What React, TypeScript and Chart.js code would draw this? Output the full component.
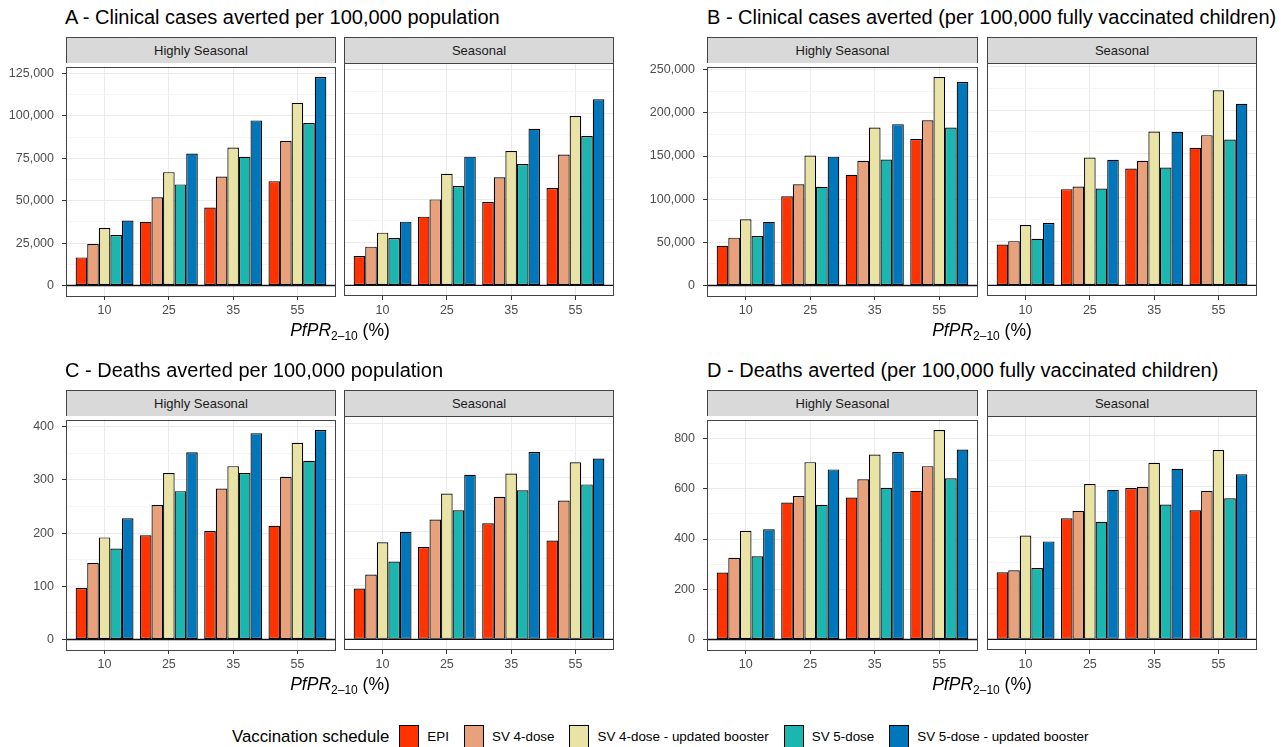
import React, { useEffect, useRef } from 'react';
import { Chart, registerables } from 'chart.js';

Chart.register(...registerables);
Chart.defaults.font.family = "'Liberation Sans', Arial, sans-serif";

// ---------- data ----------
const categories = ['10', '25', '35', '55'];
const seriesNames = ['EPI', 'SV 4-dose', 'SV 4-dose - updated booster', 'SV 5-dose', 'SV 5-dose - updated booster'];
const seriesColors = ['#FF3200', '#E9A17C', '#E9E4A6', '#1BB6AF', '#0076BB'];
const facetNames = ['Highly Seasonal', 'Seasonal'];

// A - Clinical cases averted per 100,000 population (rows follow seriesNames)
const casesPopHighly = [
  [16600, 37500, 46000, 61500],
  [24500, 52000, 64200, 85100],
  [33900, 66800, 81300, 107600],
  [29800, 59600, 75900, 95800],
  [38300, 77800, 97300, 122900],
];
const casesPopSeasonal = [
  [17000, 39900, 48400, 56500],
  [22500, 49900, 62700, 75900],
  [30600, 64800, 78000, 98300],
  [27500, 57700, 70400, 86700],
  [37000, 74700, 90900, 108000],
];
// B - Clinical cases averted per 100,000 fully vaccinated children
const casesVacHighly = [
  [46000, 103300, 128400, 169800],
  [55500, 117400, 144400, 191500],
  [76800, 150500, 183100, 241600],
  [57400, 114400, 145900, 183100],
  [73700, 149300, 186900, 235600],
];
const casesVacSeasonal = [
  [46700, 109800, 133400, 156900],
  [50500, 112800, 142100, 171400],
  [68800, 145900, 175500, 222600],
  [53200, 110600, 134500, 166400],
  [71100, 143200, 175200, 207100],
];
// C - Deaths averted per 100,000 population
const deathsPopHighly = [
  [97, 196, 204, 214],
  [144, 253, 284, 306],
  [192, 313, 326, 370],
  [171, 279, 313, 336],
  [228, 352, 388, 394],
];
const deathsPopSeasonal = [
  [94, 171, 215, 183],
  [120, 222, 264, 257],
  [180, 270, 307, 328],
  [144, 239, 276, 287],
  [199, 305, 347, 335],
];
// D - Deaths averted per 100,000 fully vaccinated children
const deathsVacHighly = [
  [267, 545, 565, 592],
  [325, 571, 638, 690],
  [433, 706, 736, 834],
  [331, 536, 604, 642],
  [439, 677, 746, 756],
];
const deathsVacSeasonal = [
  [263, 475, 593, 506],
  [271, 503, 597, 582],
  [407, 609, 692, 742],
  [280, 461, 529, 553],
  [384, 586, 669, 647],
];

// y tick values and labels
const yTicksA = [0, 25000, 50000, 75000, 100000, 125000];
const yLabelsA = ['0', '25,000', '50,000', '75,000', '100,000', '125,000'];
const yTicksB = [0, 50000, 100000, 150000, 200000, 250000];
const yLabelsB = ['0', '50,000', '100,000', '150,000', '200,000', '250,000'];
const yTicksC = [0, 100, 200, 300, 400];
const yLabelsC = ['0', '100', '200', '300', '400'];
const yTicksD = [0, 200, 400, 600, 800];
const yLabelsD = ['0', '200', '400', '600', '800'];

// ---------- layout ----------
type PanelDef = {
  title: string;
  titleLeft: number;
  titleTop: number;
  canvasLeft: number;
  plotTop: number;
  plotBottom: number;
  facets: { left: number; right: number; data: number[][] }[];
  yTicks: number[];
  yLabels: string[];
};

const panels: PanelDef[] = [
  {
    title: 'A - Clinical cases averted per 100,000 population',
    titleLeft: 65, titleTop: 6, canvasLeft: 0, plotTop: 63, plotBottom: 296,
    facets: [
      { left: 66, right: 336, data: casesPopHighly },
      { left: 344, right: 614, data: casesPopSeasonal },
    ],
    yTicks: yTicksA, yLabels: yLabelsA,
  },
  {
    title: 'B - Clinical cases averted (per 100,000 fully vaccinated children)',
    titleLeft: 707, titleTop: 6, canvasLeft: 640, plotTop: 63, plotBottom: 296,
    facets: [
      { left: 707, right: 978, data: casesVacHighly },
      { left: 987, right: 1257, data: casesVacSeasonal },
    ],
    yTicks: yTicksB, yLabels: yLabelsB,
  },
  {
    title: 'C - Deaths averted per 100,000 population',
    titleLeft: 65, titleTop: 359, canvasLeft: 0, plotTop: 416, plotBottom: 650,
    facets: [
      { left: 66, right: 336, data: deathsPopHighly },
      { left: 344, right: 614, data: deathsPopSeasonal },
    ],
    yTicks: yTicksC, yLabels: yLabelsC,
  },
  {
    title: 'D - Deaths averted (per 100,000 fully vaccinated children)',
    titleLeft: 707, titleTop: 359, canvasLeft: 640, plotTop: 416, plotBottom: 650,
    facets: [
      { left: 707, right: 978, data: deathsVacHighly },
      { left: 987, right: 1257, data: deathsVacSeasonal },
    ],
    yTicks: yTicksD, yLabels: yLabelsD,
  },
];

const PAD_TOP = 12;
const XAXIS_H = 32;
const STRIP_H = 26;

const facetPlugin = {
  id: 'facetDecor',
  afterDatasetsDraw(chart: any) {
    const { ctx, chartArea, scales } = chart;
    const y0 = scales.y.getPixelForValue(0);
    ctx.save();
    ctx.strokeStyle = '#111';
    ctx.lineWidth = 1.4;
    ctx.beginPath();
    ctx.moveTo(chartArea.left, y0);
    ctx.lineTo(chartArea.right, y0);
    ctx.stroke();
    ctx.restore();
  },
  afterDraw(chart: any) {
    const { ctx, chartArea } = chart;
    ctx.save();
    ctx.strokeStyle = '#444';
    ctx.lineWidth = 1;
    ctx.strokeRect(
      Math.round(chartArea.left) + 0.5,
      Math.round(chartArea.top) + 0.5,
      Math.round(chartArea.right - chartArea.left) - 1,
      Math.round(chartArea.bottom - chartArea.top) - 1
    );
    ctx.restore();
  },
};

function FacetChart(props: { panel: PanelDef; facetIndex: number }) {
  const { panel, facetIndex } = props;
  const facet = panel.facets[facetIndex];
  const ref = useRef<HTMLCanvasElement | null>(null);
  const isLeft = facetIndex === 0;
  const canvasLeft = isLeft ? panel.canvasLeft : facet.left;
  const yAxisW = facet.left - canvasLeft;
  const width = facet.right - canvasLeft;
  const plotH = panel.plotBottom - panel.plotTop;
  const height = PAD_TOP + plotH + XAXIS_H;
  const top = panel.plotTop - PAD_TOP;

  useEffect(() => {
    if (!ref.current) return;
    const allMax = Math.max(
      ...panel.facets.map((f) => Math.max(...f.data.map((row) => Math.max(...row))))
    );
    const yMin = -0.05 * allMax;
    const yMax = 1.05 * allMax;
    const majors = panel.yTicks;
    const minors: number[] = [];
    for (let i = 0; i < majors.length - 1; i++) minors.push((majors[i] + majors[i + 1]) / 2);
    const allTicks = [...majors, ...minors].filter((v) => v >= yMin && v <= yMax).sort((a, b) => a - b);
    const isMajor = (v: number) => majors.indexOf(v) >= 0;

    const chart = new Chart(ref.current, {
      type: 'bar',
      data: {
        datasets: seriesNames.map((name, si) => ({
          label: name,
          data: facet.data[si].map((v, ci) => ({ x: ci + 1, y: v })),
          backgroundColor: seriesColors[si],
          borderColor: '#000',
          borderWidth: 1.2,
          borderSkipped: false,
          categoryPercentage: 0.9,
          barPercentage: 1.0,
        })),
      },
      options: {
        animation: false,
        responsive: false,
        maintainAspectRatio: false,
        devicePixelRatio: 1,
        layout: { padding: { top: PAD_TOP, left: 0, right: 0, bottom: 0 } },
        plugins: { legend: { display: false }, tooltip: { enabled: false } },
        scales: {
          x: {
            type: 'linear',
            min: 0.4,
            max: 4.6,
            bounds: 'data',
            offset: false,
            afterBuildTicks: (scale: any) => {
              scale.ticks = categories.map((_, i) => ({ value: i + 1 }));
            },
            afterFit: (scale: any) => {
              scale.height = XAXIS_H;
            },
            ticks: {
              autoSkip: false,
              maxRotation: 0,
              padding: 3,
              color: '#4d4d4d',
              font: { size: 12.5 },
              callback: (v: any) => categories[Math.round(Number(v)) - 1] ?? '',
            },
            grid: {
              offset: false,
              color: '#ebebeb',
              lineWidth: 1,
              drawTicks: true,
              tickLength: 4,
              tickColor: '#333',
              tickWidth: 1,
            },
            border: { display: false },
          },
          y: {
            type: 'linear',
            min: yMin,
            max: yMax,
            bounds: 'data',
            afterBuildTicks: (scale: any) => {
              scale.ticks = allTicks.map((v) => ({ value: v }));
            },
            afterFit: (scale: any) => {
              scale.width = yAxisW;
            },
            ticks: {
              display: isLeft,
              autoSkip: false,
              padding: 8,
              color: '#4d4d4d',
              font: { size: 12.5 },
              callback: (v: any) => {
                const idx = majors.indexOf(Number(v));
                return idx >= 0 ? panel.yLabels[idx] : '';
              },
            },
            grid: {
              color: (c: any) => (c.tick && isMajor(c.tick.value) ? '#ebebeb' : '#f5f5f5'),
              lineWidth: 1,
              drawTicks: isLeft,
              tickLength: 4,
              tickColor: (c: any) => (c.tick && isMajor(c.tick.value) ? '#333' : 'rgba(0,0,0,0)'),
              tickWidth: 1,
            },
            border: { display: false },
          },
        },
      },
      plugins: [facetPlugin],
    } as any);
    return () => chart.destroy();
  }, []);

  return (
    <>
      <div
        style={{
          position: 'absolute',
          left: facet.left,
          top: panel.plotTop - STRIP_H,
          width: facet.right - facet.left,
          height: STRIP_H,
          boxSizing: 'border-box',
          border: '1px solid #444',
          borderBottom: 'none',
          background: '#d9d9d9',
          display: 'flex',
          alignItems: 'center',
          justifyContent: 'center',
          fontSize: 13,
          color: '#1a1a1a',
        }}
      >
        {facetNames[facetIndex]}
      </div>
      <canvas
        ref={ref}
        width={width}
        height={height}
        style={{ position: 'absolute', left: canvasLeft, top, width, height }}
      />
    </>
  );
}

function Panel({ panel }: { panel: PanelDef }) {
  const cx = (panel.facets[0].left + panel.facets[1].right) / 2;
  return (
    <>
      <div
        style={{
          position: 'absolute',
          left: panel.titleLeft,
          top: panel.titleTop,
          fontSize: 20,
          lineHeight: '23px',
          color: '#000',
          whiteSpace: 'nowrap',
        }}
      >
        {panel.title}
      </div>
      <FacetChart panel={panel} facetIndex={0} />
      <FacetChart panel={panel} facetIndex={1} />
      <div
        style={{
          position: 'absolute',
          left: cx - 150,
          width: 300,
          top: panel.plotBottom + 23,
          textAlign: 'center',
          fontSize: 17.5,
          lineHeight: '22px',
          color: '#000',
          whiteSpace: 'nowrap',
        }}
      >
        <i>PfPR</i>
        <sub style={{ fontSize: 12, verticalAlign: '-4px' }}>2–10</sub>
        <span> (%)</span>
      </div>
    </>
  );
}

export default function App() {
  return (
    <div
      style={{
        position: 'absolute',
        left: 0,
        top: 0,
        width: 1285,
        height: 747,
        background: '#fff',
        overflow: 'hidden',
        fontFamily: "'Liberation Sans', Arial, sans-serif",
      }}
    >
      {panels.map((p, i) => (
        <Panel key={i} panel={p} />
      ))}
      <div
        style={{
          position: 'absolute',
          left: 232,
          top: 725,
          height: 23,
          display: 'flex',
          alignItems: 'center',
          whiteSpace: 'nowrap',
        }}
      >
        <span style={{ fontSize: 16.8, marginRight: 10 }}>Vaccination schedule</span>
        {seriesNames.map((name, i) => (
          <React.Fragment key={name}>
            <span
              style={{
                display: 'inline-block',
                width: 20,
                height: 23,
                boxSizing: 'border-box',
                border: '1px solid #000',
                background: seriesColors[i],
                marginRight: 8,
              }}
            />
            <span style={{ fontSize: 13.4, marginRight: i < seriesNames.length - 1 ? 15 : 0 }}>{name}</span>
          </React.Fragment>
        ))}
      </div>
    </div>
  );
}
